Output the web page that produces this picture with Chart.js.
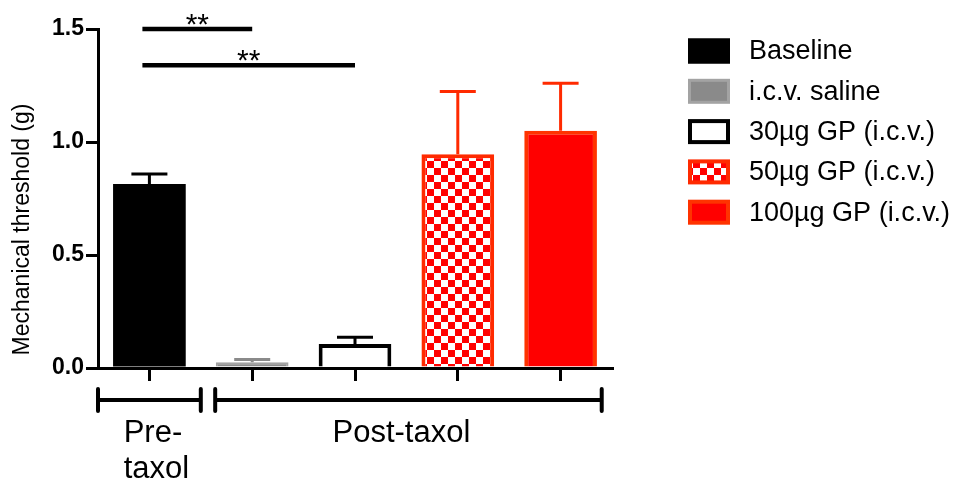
<!DOCTYPE html>
<html>
<head>
<meta charset="utf-8">
<script src="https://cdn.jsdelivr.net/npm/chart.js@4.4.1/dist/chart.umd.min.js"></script>
<style>
  html, body { margin: 0; padding: 0; background: #fff; }
  #wrap { width: 965px; height: 491px; }
</style>
</head>
<body>
<div id="wrap"><canvas id="chart"></canvas></div>
<script>
// data
const groups = ['Baseline', 'i.c.v. saline', '30µg GP (i.c.v.)', '50µg GP (i.c.v.)', '100µg GP (i.c.v.)'];
const means = [0.814, 0.025, 0.106, 0.946, 1.05];
const sems = [0.044, 0.013, 0.030, 0.277, 0.21];
const yTicks = [0, 0.5, 1.0, 1.5];
const yTitle = 'Mechanical threshold (g)';

// significance bars: [from, to], height, label
const sigPairs = [[0, 1], [0, 2]];
const sigLevels = [1.5, 1.34];
const sigMarks = ['**', '**'];

// phase brackets under the axis
const phaseNames = [['Pre-', 'taxol'], ['Post-taxol']];
const phaseFirst = [0, 1];
const phaseLast = [0, 4];

const FONT = 'Arial, "Liberation Sans", sans-serif';

// red / white checkerboard for the 50µg bar
function checker(size) {
    const c = document.createElement('canvas');
    c.width = size * 2;
    c.height = size * 2;
    const g = c.getContext('2d');
    g.fillStyle = '#ffffff';
    g.fillRect(0, 0, size * 2, size * 2);
    g.fillStyle = '#ff0000';
    g.fillRect(0, 0, size, size);
    g.fillRect(size, size, size, size);
    return g.createPattern(c, 'repeat');
}
const checkFill = checker(7);

const fills = ['#000000', '#8a8a8a', '#ffffff', checkFill, '#ff0000'];
const borders = ['#000000', '#a3a3a3', '#000000', '#ff2a00', '#ff3300'];
const borderWidths = [0, 2, 4, 4, 4];
const errColors = ['#000000', '#8a8a8a', '#000000', '#ff2a00', '#ff2a00'];

const overlay = {
    id: 'overlay',
    afterDatasetsDraw(chart) {
        const ctx = chart.ctx;
        const x = chart.scales.x;
        const y = chart.scales.y;
        const meta = chart.getDatasetMeta(0);
        ctx.save();

        // error bars (upper only)
        ctx.lineWidth = 3;
        means.forEach((m, i) => {
            const px = meta.data[i].x;
            const y0 = y.getPixelForValue(m);
            const y1 = y.getPixelForValue(m + sems[i]);
            ctx.strokeStyle = errColors[i];
            ctx.beginPath();
            ctx.moveTo(px, y0);
            ctx.lineTo(px, y1);
            ctx.moveTo(px - 18, y1);
            ctx.lineTo(px + 18, y1);
            ctx.stroke();
        });

        // significance lines
        ctx.strokeStyle = '#000';
        ctx.fillStyle = '#000';
        ctx.lineWidth = 4.5;
        ctx.font = '30px ' + FONT;
        ctx.textAlign = 'center';
        ctx.textBaseline = 'alphabetic';
        sigPairs.forEach(([a, b], i) => {
            const x0 = meta.data[a].x - 7;
            const x1 = meta.data[b].x;
            const py = y.getPixelForValue(sigLevels[i]);
            ctx.beginPath();
            ctx.moveTo(x0, py);
            ctx.lineTo(x1, py);
            ctx.stroke();
            ctx.fillText(sigMarks[i], (x0 + x1) / 2, py + 5);
        });

        // phase brackets and labels
        const slot = x.getPixelForValue(1) - x.getPixelForValue(0);
        const by = y.bottom + 32;
        const padL = [0.5, 0.36];
        const padR = [0.5, 0.4];
        ctx.lineWidth = 4;
        ctx.lineCap = 'round';
        ctx.font = '31px ' + FONT;
        phaseNames.forEach((lines, i) => {
            const left = x.getPixelForValue(phaseFirst[i]) - padL[i] * slot;
            const right = x.getPixelForValue(phaseLast[i]) + padR[i] * slot;
            ctx.beginPath();
            ctx.moveTo(left, by);
            ctx.lineTo(right, by);
            ctx.moveTo(left, by - 11);
            ctx.lineTo(left, by + 11);
            ctx.moveTo(right, by - 11);
            ctx.lineTo(right, by + 11);
            ctx.stroke();
            const widest = Math.max(...lines.map(t => ctx.measureText(t).width));
            const mid = (x.getPixelForValue(phaseFirst[i]) + x.getPixelForValue(phaseLast[i])) / 2 + (i === 0 ? 7 : -5);
            ctx.textAlign = 'left';
            lines.forEach((t, k) => ctx.fillText(t, mid - widest / 2, by + 42 + k * 36));
        });

        // y axis title (sits a little below the axis centre in the original)
        ctx.font = '23px ' + FONT;
        ctx.textAlign = 'center';
        ctx.textBaseline = 'middle';
        ctx.translate(23, (y.top + y.bottom) / 2 + 31);
        ctx.rotate(-Math.PI / 2);
        ctx.fillText(yTitle, 0, 0);
        ctx.restore();
    },
    afterDraw(chart) {
        // legend on the right
        const ctx = chart.ctx;
        ctx.save();
        ctx.font = '27px ' + FONT;
        ctx.textBaseline = 'middle';
        ctx.textAlign = 'left';
        groups.forEach((g, i) => {
            const cy = 51 + i * 40.3;
            const bx = 688, bw = 42, bh = 25;
            const inset = i === 0 ? 0 : (i === 1 ? 3 : 4);
            ctx.fillStyle = borders[i];
            ctx.fillRect(bx, cy - bh / 2, bw, bh);
            ctx.fillStyle = fills[i];
            ctx.fillRect(bx + inset, cy - bh / 2 + inset, bw - 2 * inset, bh - 2 * inset);
            ctx.fillStyle = '#000';
            ctx.fillText(g, 749, cy + 1);
        });
        ctx.restore();
    }
};

new Chart(document.getElementById('chart'), {
    type: 'bar',
    data: {
        labels: groups,
        datasets: [{
            data: means,
            backgroundColor: fills,
            borderColor: borders,
            borderWidth: borderWidths,
            barPercentage: 0.707,
            categoryPercentage: 1.0
        }]
    },
    options: {
        responsive: true,
        maintainAspectRatio: false,
        animation: false,
        events: [],
        layout: { padding: { top: 29, right: 353, left: 0, bottom: 0 } },
        plugins: {
            legend: { display: false },
            tooltip: { enabled: false }
        },
        scales: {
            x: {
                grid: { offset: false, drawOnChartArea: false, drawTicks: true, tickLength: 13, lineWidth: 3, color: '#000' },
                border: { display: true, width: 3, color: '#000' },
                ticks: { callback: () => '', padding: 0 },
                afterFit: s => { s.height = 123; }
            },
            y: {
                min: 0,
                max: 1.5,
                afterBuildTicks: s => { s.ticks = yTicks.map(v => ({ value: v })); },
                grid: { drawOnChartArea: false, drawTicks: true, tickLength: 12, lineWidth: 3, color: '#000' },
                border: { display: true, width: 3, color: '#000' },
                ticks: {
                    color: '#000',
                    padding: 2,
                    font: { family: FONT, size: 23, weight: 'bold' },
                    callback: v => Number(v).toFixed(1)
                },
                afterFit: s => { s.width = 98; }
            }
        }
    },
    plugins: [overlay]
});
</script>
</body>
</html>
